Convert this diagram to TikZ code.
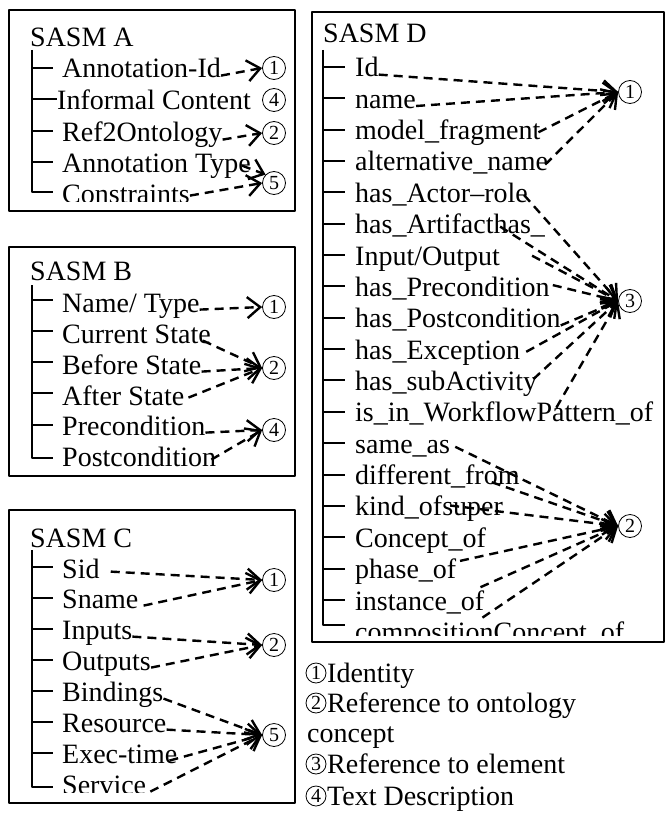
\documentclass[tikz,border=0pt]{standalone}
\usepackage{fontspec}
\setmainfont{Liberation Serif}
\usetikzlibrary{arrows.meta}
\tikzset{item/.style={anchor=base west,inner sep=0pt,text height=0.7em,text depth=0.22em},
  cnum/.style={circle,draw,line width=0.8pt,inner sep=0pt,minimum size=23pt,font=\fontsize{20}{20}\selectfont},
  ref/.style={line width=2.4pt,dash pattern=on 9pt off 6pt,-{Straight Barb[length=13pt,width=21pt]}},
  tree/.style={line width=2.2pt},
  frame/.style={line width=2.2pt}}

\begin{document}
\begin{tikzpicture}[x=1pt,y=-1pt,line join=round,font=\fontsize{28}{31}\selectfont]
\useasboundingbox (0,0) rectangle (665,821);
% --- SASM A
\begin{scope}
\clip (9,10) rectangle (295,201);
\node[item] (ta) at (30,47) {SASM A};
\node[item] (a1) at (62,78) {Annotation-Id}; \node[item] (a2) at (57,110) {Informal Content};
\node[item] (a3) at (62,142) {Ref2Ontology}; \node[item] (a4) at (62,173) {Annotation Type};
\node[item] (a5) at (62,204) {Constraints};
\draw[tree] (32,50) -- (32,192) -- (53,192) (32,68) -- (53,68) (32,99) -- (57,99) (32,131) -- (53,131) (32,162) -- (53,162);
\end{scope}
\draw[frame] (9,10) rectangle (295,211);
\node[cnum] (A1) at (274,68) {1}; \node[cnum] (A4) at (274,100) {4};
\node[cnum] (A2) at (274,133) {2}; \node[cnum] (A5) at (274,183) {5};
\draw[ref] (a1.east) -- (A1.west); \draw[ref] (a3.east) -- (A2.west);
\draw[ref] ([xshift=-9pt,yshift=5pt]a4.east) -- (A5.north west); \draw[ref] ([yshift=6pt]a5.east) -- (A5.west);
% --- SASM B
\begin{scope}
\clip (9,247) rectangle (295,467);
\node[item] (tb) at (30,280) {SASM B};
\node[item] (b1) at (62,312) {Name/ Type}; \node[item] (b2) at (62,343) {Current State};
\node[item] (b3) at (62,374) {Before State}; \node[item] (b4) at (62,405) {After State};
\node[item] (b5) at (62,435) {Precondition}; \node[item] (b6) at (62,466) {Postcondition};
\draw[tree] (32,285) -- (32,458) -- (53,458) (32,300) -- (53,300) (32,331) -- (53,331) (32,362) -- (53,362) (32,393) -- (53,393) (32,425) -- (53,425);
\end{scope}
\draw[frame] (9,247) rectangle (295,476);
\node[cnum] (B1) at (274,307) {1}; \node[cnum] (B2) at (274,368) {2}; \node[cnum] (B4) at (274,430) {4};
\draw[ref] (b1.east) -- (B1.west); \draw[ref] ([xshift=-8pt]b2.east) -- (B2.west);
\draw[ref] (b3.east) -- (B2.west); \draw[ref] ([xshift=4pt,yshift=5pt]b4.east) -- (B2.west);
\draw[ref] (b5.east) -- (B4.west); \draw[ref] ([xshift=-5pt,yshift=4pt]b6.east) -- (B4.west);
% --- SASM C
\begin{scope}
\clip (9,510) rectangle (295,792);
\node[item] (tc) at (30,547) {SASM C};
\node[item] (c1) at (62,578) {Sid}; \node[item] (c2) at (62,608) {Sname};
\node[item] (c3) at (62,639) {Inputs}; \node[item] (c4) at (62,670) {Outputs};
\node[item] (c5) at (62,701) {Bindings}; \node[item] (c6) at (62,732) {Resource};
\node[item] (c7) at (62,763) {Exec-time}; \node[item] (c8) at (62,794) {Service};
\draw[tree] (32,550) -- (32,787) -- (53,787) (32,567) -- (53,567) (32,598) -- (53,598) (32,629) -- (53,629) (32,660) -- (53,660) (32,691) -- (53,691) (32,722) -- (53,722) (32,753) -- (53,753);
\end{scope}
\draw[frame] (9,510) rectangle (295,803);
\node[cnum] (C1) at (274,580) {1}; \node[cnum] (C2) at (274,645) {2}; \node[cnum] (C5) at (274,735) {5};
\draw[ref] ([xshift=11pt,yshift=4pt]c1.east) -- (C1.west); \draw[ref] ([xshift=5pt]c2.east) -- (C1.west);
\draw[ref] (c3.east) -- (C2.west); \draw[ref] (c4.east) -- (C2.west);
\draw[ref] (c5.east) -- (C5.west); \draw[ref] (c6.east) -- (C5.west);
\draw[ref] ([xshift=-8pt]c7.east) -- (C5.west); \draw[ref] ([xshift=4pt]c8.east) -- (C5.west);
% --- SASM D
\begin{scope}
\clip (312,12) rectangle (664,635);
\node[item] (td) at (323,43) {SASM D};
\node[item] (d1) at (355,77) {Id}; \node[item] (d2) at (355,108.4) {name};
\node[item] (d3) at (355,139.7) {model\_fragment}; \node[item] (d4) at (355,171) {alternative\_name};
\node[item] (d5) at (355,202.4) {has\_Actor--role}; \node[item] (d6) at (355,233.8) {has\_Artifacthas\_};
\node[item] (d7) at (355,265.1) {Input/Output}; \node[item] (d8) at (355,296.5) {has\_Precondition};
\node[item] (d9) at (355,327.8) {has\_Postcondition}; \node[item] (d10) at (355,359.2) {has\_Exception};
\node[item] (d11) at (355,390.5) {has\_subActivity}; \node[item] (d12) at (355,421.9) {is\_in\_WorkflowPattern\_of};
\node[item] (d13) at (355,453.2) {same\_as}; \node[item] (d14) at (355,484.6) {different\_from};
\node[item] (d15) at (355,515.9) {kind\_ofsuper}; \node[item] (d16) at (355,547.3) {Concept\_of};
\node[item] (d17) at (355,578.6) {phase\_of}; \node[item] (d18) at (355,610) {instance\_of};
\node[item] (d19) at (355,641.3) {compositionConcept\_of};
\draw[tree] (323,50) -- (323,625) -- (345,625) (323,67) -- (345,67) (323,98) -- (345,98) (323,130) -- (345,130) (323,161) -- (345,161)
  (323,192) -- (345,192) (323,224) -- (345,224) (323,255) -- (345,255) (323,286) -- (345,286) (323,318) -- (345,318) (323,349) -- (345,349)
  (323,380) -- (345,380) (323,412) -- (345,412) (323,443) -- (345,443) (323,475) -- (345,475) (323,506) -- (345,506) (323,537) -- (345,537)
  (323,569) -- (345,569) (323,600) -- (345,600);
\end{scope}
\draw[frame] (312,12) rectangle (664,642);
\node[cnum] (D1) at (630,92) {1}; \node[cnum] (D3) at (630,301) {3}; \node[cnum] (D2) at (630,526) {2};
\draw[ref] (d1.east) -- (D1.west); \draw[ref] (d2.east) -- (D1.west);
\draw[ref] ([xshift=-2pt,yshift=5pt]d3.east) -- (D1.west); \draw[ref] ([xshift=-3pt,yshift=4pt]d4.east) -- (D1.west);
\draw[ref] ([xshift=-4pt,yshift=5pt]d5.east) -- (D3.west); \draw[ref] ([xshift=-45pt]d6.north east) -- (D3.west);
\draw[ref] ([xshift=32pt,yshift=7pt]d7.east) -- (D3.west); \draw[ref] ([xshift=3pt,yshift=9pt]d8.east) -- (D3.west);
\draw[ref] (d9.east) -- (D3.west); \draw[ref] ([xshift=6pt,yshift=5pt]d10.east) -- (D3.west);
\draw[ref] ([xshift=-4pt,yshift=9pt]d11.east) -- (D3.west); \draw[ref] ([xshift=-97pt,yshift=7pt]d12.north east) -- (D3.west);
\draw[ref] ([xshift=5pt,yshift=4pt]d13.east) -- (D2.west); \draw[ref] ([xshift=-28pt]d14.east) -- (D2.west);
\draw[ref] ([xshift=-53pt,yshift=8pt]d15.east) -- (D2.west); \draw[ref] ([xshift=-26pt,yshift=-16pt]d16.east) -- (D2.west);
\draw[ref] ([xshift=24pt,yshift=-11pt]d17.east) -- (D2.west); \draw[ref] ([xshift=-2pt,yshift=-10pt]d18.east) -- (D2.west);
% --- legend
\node[cnum,minimum size=20pt] (L1) at (316,673) {1}; \node[item] (l1) at (327,682) {Identity};
\node[cnum,minimum size=20pt] (L2) at (316,703) {2}; \node[item] (l2) at (327,712) {Reference to ontology};
\node[item] (l2b) at (307,742) {concept};
\node[cnum,minimum size=20pt] (L3) at (316,764) {3}; \node[item] (l3) at (327,773) {Reference to element};
\node[cnum,minimum size=20pt] (L4) at (316,796) {4}; \node[item] (l4) at (327,805) {Text Description};
\end{tikzpicture}
\end{document}
